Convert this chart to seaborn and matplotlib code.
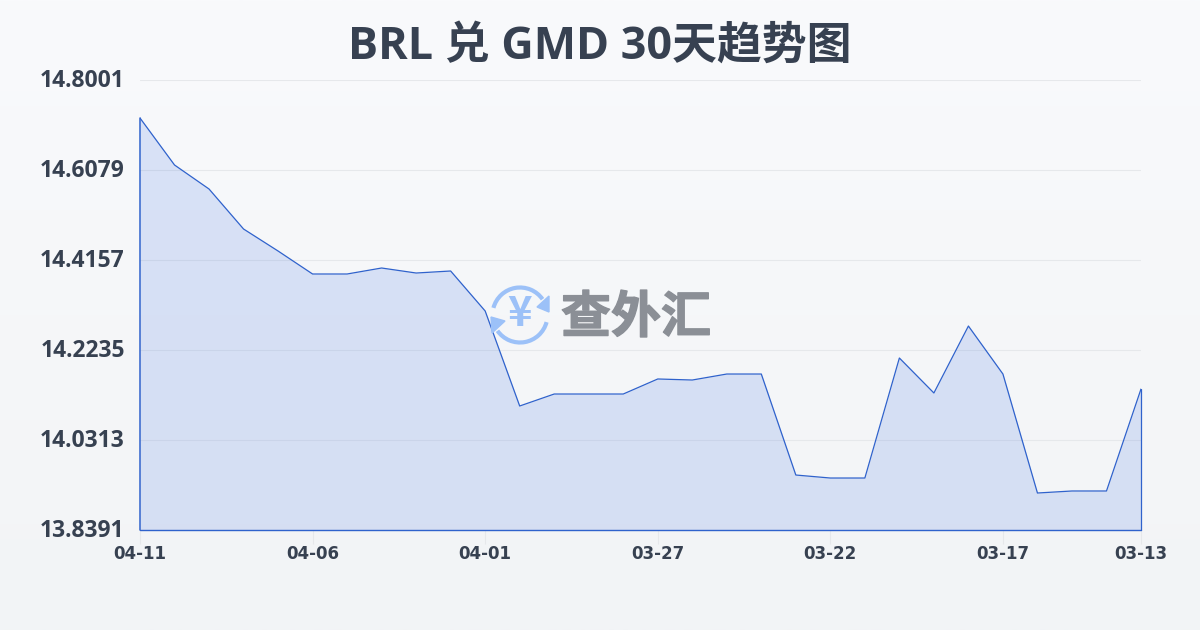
import numpy as np
import pandas as pd
import matplotlib
matplotlib.use('Agg')
import matplotlib.pyplot as plt
import matplotlib.patheffects as pe
from matplotlib.patches import Arc, Polygon
from matplotlib.transforms import ScaledTranslation
import seaborn as sns

dates = ['04-11', '04-10', '04-09', '04-08', '04-07', '04-06', '04-05', '04-04', '04-03', '04-02',
         '04-01', '03-31', '03-30', '03-29', '03-28', '03-27', '03-26', '03-25', '03-24', '03-23',
         '03-22', '03-21', '03-20', '03-19', '03-18', '03-17', '03-16', '03-15', '03-14', '03-13']
rates = [14.7189, 14.6186, 14.5673, 14.4819, 14.4349, 14.3858, 14.3858, 14.3986, 14.3879, 14.3922,
         14.3068, 14.1039, 14.1295, 14.1295, 14.1295, 14.1616, 14.1594, 14.1722, 14.1722, 13.9565,
         13.9501, 13.9501, 14.2064, 14.1317, 14.2747, 14.1722, 13.9181, 13.9224, 13.9224, 14.1402]
y_ticks = [14.8001, 14.6079, 14.4157, 14.2235, 14.0313, 13.8391]
x_tick_labels = ['04-11', '04-06', '04-01', '03-27', '03-22', '03-17', '03-13']
x_tick_pos = [0, 5, 10, 15, 20, 25, 29]

sns.set_theme(style='white')
plt.rcParams['font.family'] = ['Noto Sans CJK SC', 'DejaVu Sans']

df = pd.DataFrame({'idx': range(len(dates)), 'rate': rates})

W, H = 1200, 630
LINE = '#2f62cc'
fig = plt.figure(figsize=(W / 100, H / 100), dpi=100)

# page background, light vertical gradient
bg = fig.add_axes([0, 0, 1, 1], zorder=0)
bg.imshow(np.linspace(0, 1, 256).reshape(-1, 1), aspect='auto',
          cmap=matplotlib.colors.LinearSegmentedColormap.from_list('bg', ['#f9fafc', '#f2f4f6']))
bg.axis('off')

ax = fig.add_axes([140 / W, 1 - 530 / H, 1001 / W, 450 / H], zorder=1)
ax.patch.set_alpha(0)

ax.fill_between(df['idx'], df['rate'], y_ticks[-1], color='#2a62e0', alpha=0.15, lw=0, zorder=2)
sns.lineplot(data=df, x='idx', y='rate', color=LINE, lw=0.9, ax=ax, zorder=3)
ax.plot([0, 0], [y_ticks[-1], rates[0]], color=LINE, lw=1.1, zorder=3, clip_on=False)
ax.plot([29, 29], [y_ticks[-1], rates[-1]], color=LINE, lw=0.9, zorder=3, clip_on=False)
ax.plot([0, 29], [y_ticks[-1], y_ticks[-1]], color=LINE, lw=1.0, zorder=3, clip_on=False)

ax.set_xlim(0, 29)
ax.set_ylim(y_ticks[-1], y_ticks[0])
ax.set_xlabel('')
ax.set_ylabel('')
for s in ax.spines.values():
    s.set_visible(False)

ax.set_yticks(y_ticks)
ax.set_yticklabels([f'{v:.4f}' for v in y_ticks], fontsize=16.5, fontweight='bold', color='#374151',
                   family=['Open Sans', 'DejaVu Sans'])
ax.tick_params(axis='y', length=0, pad=11)
# labels sit a little above their grid lines
shift = ScaledTranslation(0, 2 / 100, fig.dpi_scale_trans)
for lab in ax.get_yticklabels():
    lab.set_transform(lab.get_transform() + shift)
ax.yaxis.grid(True, color='#e6e8eb', lw=0.8)
ax.set_axisbelow(True)

ax.set_xticks(x_tick_pos)
ax.set_xticklabels(x_tick_labels, fontsize=12, fontweight='bold', color='#374151', family='DejaVu Sans')
ax.tick_params(axis='x', length=10, width=0.8, color='#e6e8eb', pad=1, bottom=True)

fig.text(600 / W, 1 - 47 / H, 'BRL 兑 GMD 30天趋势图', ha='center', va='center',
         fontsize=32.3, fontweight='bold', color='#374151', zorder=5,
         family=['Open Sans', 'Noto Sans CJK SC'])

# watermark logo in pixel coordinates
ov = fig.add_axes([0, 0, 1, 1], zorder=4)
ov.set_xlim(0, W)
ov.set_ylim(H, 0)
ov.axis('off')
blue = '#9cc1f8'
cx, cy = 520, 315
ov.add_patch(Arc((cx, cy), 55, 55, theta1=195, theta2=325, color=blue, lw=3))
ov.add_patch(Arc((cx, cy), 55, 55, theta1=15, theta2=145, color=blue, lw=3))
ov.add_patch(Polygon([[549, 296], [549, 312], [537, 307]], color=blue))
ov.add_patch(Polygon([[491, 317], [505, 321], [492, 333]], color=blue))
ov.text(cx, cy - 1, '¥', ha='center', va='center', fontsize=30, fontweight='bold', color=blue)
ov.text(636, 318, '查外汇', ha='center', va='center', fontsize=36, fontweight='bold',
        color='#8b8f96', path_effects=[pe.withStroke(linewidth=1, foreground='#8b8f96')])

fig.savefig('out.png', dpi=100)
